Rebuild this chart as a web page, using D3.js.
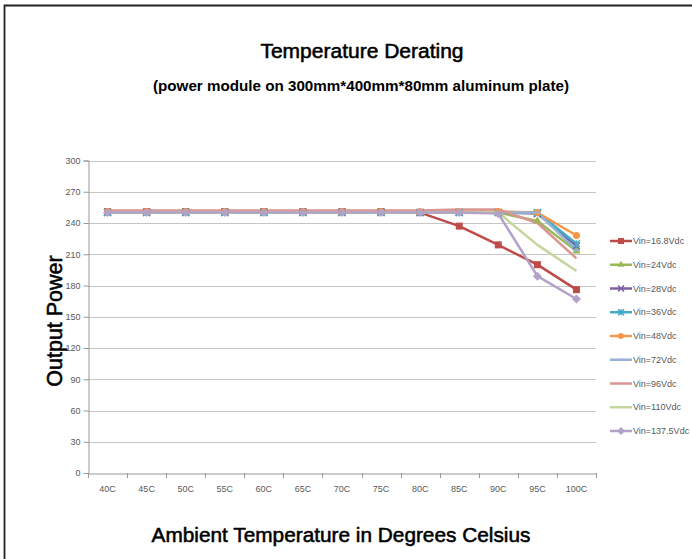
<!DOCTYPE html>
<html><head><meta charset="utf-8">
<script src="https://cdn.jsdelivr.net/npm/d3@7"></script>
<style>body{margin:0;background:#fff}svg{display:block}</style>
</head><body><svg id="c" width="692" height="559"></svg>
<script>
const categories = ["40C","45C","50C","55C","60C","65C","70C","75C","80C","85C","90C","95C","100C"];
const seriesNames = ["Vin=16.8Vdc","Vin=24Vdc","Vin=28Vdc","Vin=36Vdc","Vin=48Vdc","Vin=72Vdc","Vin=96Vdc","Vin=110Vdc","Vin=137.5Vdc"];
const v16_8 = [251,251,251,251,251,251,251,251,250,237,219,200,176];
const v24   = [250,250,250,250,250,250,250,250,250,250,250,242,213];
const v28   = [250,250,250,250,250,250,250,250,250,250,250,249,218];
const v36   = [250,250,250,250,250,250,250,250,250,250,250,250,220];
const v48   = [251,251,251,251,251,251,251,251,251,251,251,250,228];
const v72   = [250,250,250,250,250,250,250,250,250,250,250,250,214];
const v96   = [252,252,252,252,252,252,252,252,252,253,253,240,206];
const v110  = [250,250,250,250,250,250,250,250,250,250,250,219,194];
const v137_5= [250,250,250,250,250,250,250,250,250,250,249,189,167];
const yTicks = [0,30,60,90,120,150,180,210,240,270,300];
const colors = ["#BE4B48","#98B954","#7D60A0","#46AAC5","#F79646","#95B3D7","#D99694","#C3D69B","#B3A2C7"];
const markers = ["square","triangle","x","star","circle","plus","none","none","diamond"];
const allSeries = [v16_8,v24,v28,v36,v48,v72,v96,v110,v137_5];

const svg = d3.select("#c");
// frame
svg.append("path").attr("d","M4.5,559 L4.5,5.5 L692,5.5").attr("fill","none").attr("stroke","#222").attr("stroke-width",1.8);

const pLeft=88, pRight=596, pTop=160.5, pBottom=473;
const x = d3.scaleBand().domain(categories).range([pLeft,pRight]);
const y = d3.scaleLinear().domain([0,300]).range([pBottom,pTop]);

// gridlines
svg.append("g").selectAll("line").data(yTicks.filter(d=>d>0)).join("line")
  .attr("x1",pLeft).attr("x2",pRight).attr("y1",d=>Math.round(y(d))+0.5).attr("y2",d=>Math.round(y(d))+0.5)
  .attr("stroke","#c6c6c6").attr("stroke-width",1);

// y axis
const ya = svg.append("g").attr("transform",`translate(${pLeft+0.5},0)`)
  .call(d3.axisLeft(y).tickValues(yTicks).tickSize(5).tickPadding(3));
ya.select(".domain").attr("stroke","#999");
ya.selectAll(".tick line").attr("stroke","#999");
ya.selectAll("text").attr("fill","#595959").style("font-family","Liberation Sans, Arial, sans-serif").style("font-size","9px");

// x axis
const xa = svg.append("g").attr("transform",`translate(0,${pBottom+0.5})`)
  .call(d3.axisBottom(x).tickSize(0).tickPadding(12));
xa.select(".domain").attr("stroke","#999");
xa.selectAll("text").attr("fill","#595959").style("font-family","Liberation Sans, Arial, sans-serif").style("font-size","9px");
svg.append("g").selectAll("line").data(d3.range(categories.length+1)).join("line")
  .attr("x1",i=>Math.round(pLeft+i*x.step())+0.5).attr("x2",i=>Math.round(pLeft+i*x.step())+0.5)
  .attr("y1",pBottom).attr("y2",pBottom+5).attr("stroke","#999");

function marker(g, type, color, size){
  const s=size;
  if(type==="square") g.append("rect").attr("x",-s/2).attr("y",-s/2).attr("width",s).attr("height",s).attr("fill",color);
  else if(type==="triangle") g.append("path").attr("d",d3.symbol(d3.symbolTriangle,s*s*0.6)()).attr("fill",color);
  else if(type==="diamond") g.append("path").attr("d",`M0,${-s/2-1}L${s/2+1},0L0,${s/2+1}L${-s/2-1},0Z`).attr("fill",color);
  else if(type==="circle") g.append("circle").attr("r",s/2).attr("fill",color);
  else if(type==="x") g.append("path").attr("d",`M${-s/2},${-s/2}L${s/2},${s/2}M${-s/2},${s/2}L${s/2},${-s/2}`).attr("stroke",color).attr("stroke-width",1.5);
  else if(type==="star") g.append("path").attr("d",`M${-s/2},${-s/2}L${s/2},${s/2}M${-s/2},${s/2}L${s/2},${-s/2}M0,${-s/2}L0,${s/2}`).attr("stroke",color).attr("stroke-width",1.5);
  else if(type==="plus") g.append("path").attr("d",`M${-s/2},0L${s/2},0`).attr("stroke",color).attr("stroke-width",2);
}

const line = d3.line().x((d,i)=>x(categories[i])+x.bandwidth()/2).y(d=>y(d));
allSeries.forEach((vals,k)=>{
  svg.append("path").datum(vals).attr("d",line).attr("fill","none").attr("stroke",colors[k]).attr("stroke-width",2.5).attr("stroke-linejoin","round");
});
allSeries.forEach((vals,k)=>{
  if(markers[k]==="none") return;
  vals.forEach((v,i)=>{
    const g=svg.append("g").attr("transform",`translate(${x(categories[i])+x.bandwidth()/2},${y(v)})`);
    marker(g,markers[k],colors[k],7);
  });
});

// legend
const lg = svg.append("g");
seriesNames.forEach((n,k)=>{
  const yy = 241 + k*23.75;
  lg.append("line").attr("x1",610).attr("x2",632).attr("y1",yy).attr("y2",yy).attr("stroke",colors[k]).attr("stroke-width",2.5);
  if(markers[k]!=="none"){
    const g=lg.append("g").attr("transform",`translate(621,${yy})`);
    marker(g,markers[k],colors[k],6);
  }
  lg.append("text").attr("x",633).attr("y",yy+3).text(n).attr("fill","#595959")
    .style("font-family","Liberation Sans, Arial, sans-serif").style("font-size","9px");
});

// titles
const tf = "Liberation Sans, Arial, sans-serif";
function heavy(sel){ return sel.attr("fill","#000").attr("stroke","#000").attr("stroke-width",0.55).style("font-family",tf); }
heavy(svg.append("text").attr("x",362).attr("y",58).attr("text-anchor","middle").text("Temperature Derating")
  .style("font-size","21px"));
svg.append("text").attr("x",361).attr("y",91).attr("text-anchor","middle").text("(power module on 300mm*400mm*80mm aluminum plate)")
  .style("font-family",tf).style("font-size","15.2px").style("font-weight","bold").attr("fill","#000");
heavy(svg.append("text").attr("x",341).attr("y",542).attr("text-anchor","middle").text("Ambient Temperature in Degrees Celsius")
  .style("font-size","20.8px"));
heavy(svg.append("text").attr("transform","translate(61.5,321) rotate(-90)").attr("text-anchor","middle").text("Output Power")
  .style("font-size","21.5px"));
</script></body></html>
